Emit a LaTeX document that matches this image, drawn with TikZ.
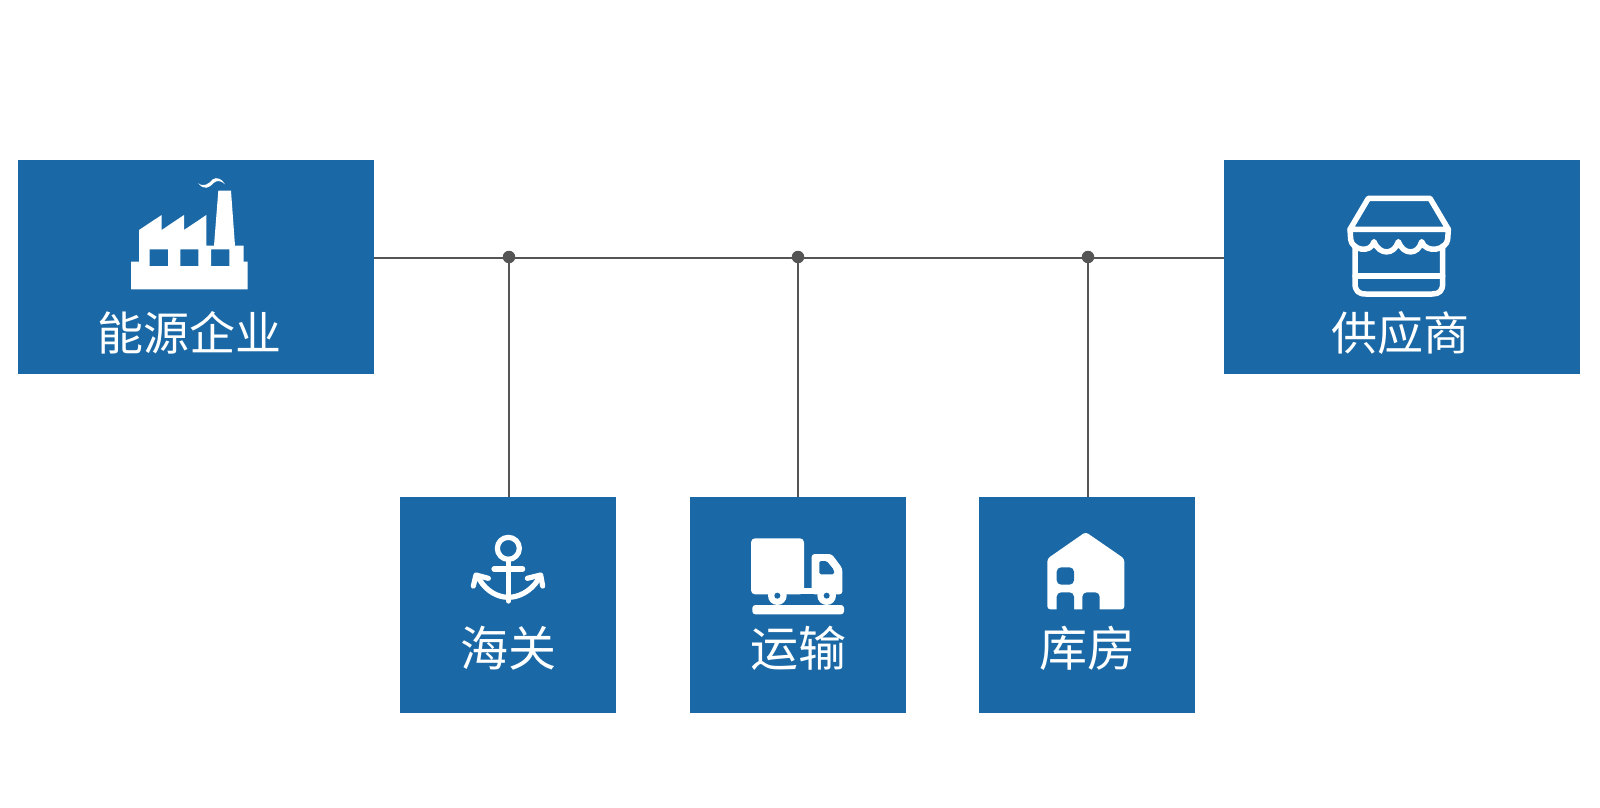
\documentclass[tikz,border=0pt]{standalone}
\usepackage{fontspec}
\newfontfamily\cjk{Noto Sans CJK SC}[Scale=1]
\definecolor{boxblue}{HTML}{1A69A6}
\definecolor{linegray}{HTML}{555555}
\tikzset{
  x=1pt,y=-1pt,
  bluebox/.style={fill=boxblue,draw=none,inner sep=0pt,outer sep=0pt,rectangle},
  wide/.style={bluebox,minimum width=356pt,minimum height=214pt},
  square/.style={bluebox,minimum width=216pt,minimum height=216pt},
  caption/.style={text=white,inner sep=0pt,font=\cjk\fontsize{46pt}{50pt}\selectfont},
  smallcaption/.style={text=white,inner sep=0pt,font=\cjk\fontsize{48pt}{52pt}\selectfont},
  wire/.style={draw=linegray,line width=2.2pt},
  dotj/.style={circle,fill=linegray,draw=none,minimum size=12.5pt,inner sep=0pt,outer sep=0pt},
  icon/.style={x=0.33333pt,y=-0.33333pt},
  iconfill/.style={fill=white,draw=none},
  iconline/.style={draw=white,line join=round,line cap=round},
}
\begin{document}
\begin{tikzpicture}
\useasboundingbox (0,0) rectangle (1600,808);
\fill[white] (0,0) rectangle (1600,808);
% boxes
\node[wide] (energy) at (196,267) {};
\node[wide] (supplier) at (1402,267) {};
\node[square] (customs) at (508,605) {};
\node[square] (transport) at (798,605) {};
\node[square] (storage) at (1087,605) {};
% junctions
\coordinate (bus) at (0,258);
\node[dotj] (j1) at (509,257) {};
\node[dotj] (j2) at (798,257) {};
\node[dotj] (j3) at (1088,257) {};
% connectors
\draw[wire] (energy.east |- bus) -- (supplier.west |- bus);
\draw[wire] (j1) -- (j1 |- customs.north);
\draw[wire] (j2) -- (j2 |- transport.north);
\draw[wire] (j3) -- (j3 |- storage.north);
% captions
\node[caption] (t1) at (189,333) {\cjk 能源企业};
\node[caption] (t2) at (1400,333) {\cjk 供应商};
\node[smallcaption] (t3) at (508,648) {\cjk 海关};
\node[smallcaption] (t4) at (798,648) {\cjk 运输};
\node[smallcaption] (t5) at (1087,648) {\cjk 库房};
% factory
\begin{scope}[shift={(100,160)},icon]
\fill[iconfill,even odd rule] (93,388)--(443,388)--(443,305)--(431,305)--(431,257)--(405,257)--(393,92)--(355,92)--(342,257)--(319,257)--(319,165)--(252,210)--(252,165)--(185,210)--(185,165)--(117,210)--(117,305)--(93,305)--cycle
 (149,268) rectangle (204,318) (241,268) rectangle (295,318) (333,268) rectangle (388,318);
\fill[iconfill] (295,70) .. controls (312,92) and (328,84) .. (342,68) .. controls (352,60) and (364,62) .. (375,73) .. controls (366,56) and (350,50) .. (338,58) .. controls (326,72) and (312,82) .. (295,70) -- cycle;
\end{scope}
% store
\begin{scope}[shift={(1300,170)},icon]
\draw[iconline,line width=5.5pt] (205,85)--(390,85)--(445,178)--(150,178)--cycle;
\draw[iconline,line width=5.5pt] (150,178)--(152,208) .. controls (155,240) and (212,252) .. (222,215) .. controls (238,256) and (282,256) .. (295,215) .. controls (310,256) and (354,256) .. (365,215) .. controls (378,252) and (440,240) .. (443,208)--(445,178);
\draw[iconline,line width=5.5pt] (165,228)--(165,340) .. controls (165,362) and (175,372) .. (197,372)--(397,372) .. controls (418,372) and (428,362) .. (428,340)--(428,228);
\draw[iconline,line width=5.5pt] (165,318)--(428,318);
\end{scope}
% anchor
\begin{scope}[shift={(440,520)},icon]
\draw[iconline,line width=5.2pt] (205,85) circle (33);
\draw[iconline,line width=5.2pt] (205,118)--(205,243);
\draw[iconline,line width=5.2pt] (162,147)--(248,147);
\draw[iconline,line width=5.2pt] (118,178) .. controls (140,215) and (175,232) .. (205,232) .. controls (235,232) and (272,215) .. (295,178);
\draw[iconline,line width=5.2pt] (145,175)--(108,165)--(100,198);
\draw[iconline,line width=5.2pt] (262,175)--(302,165)--(308,198);
\end{scope}
% truck
\begin{scope}[shift={(730,525)},icon]
\fill[iconfill,rounded corners=4pt] (63,40) rectangle (222,208);
\fill[iconfill] (200,190) rectangle (320,208);
\fill[iconfill,rounded corners=3pt] (245,208)--(245,87)--(305,87)--(337,130)--(337,208)--cycle;
\fill[boxblue,rounded corners=1.5pt] (268,108)--(290,108)--(312,135)--(312,148)--(268,148)--cycle;
\fill[iconfill] (142,212) circle (28) (290,212) circle (28);
\fill[boxblue] (142,212) circle (9) (290,212) circle (9);
\fill[iconfill,rounded corners=3pt] (67,240) rectangle (342,268);
\end{scope}
% warehouse
\begin{scope}[shift={(1025,520)},icon]
\fill[iconfill,rounded corners=3pt] (182,36)--(298,116)--(298,268)--(67,268)--(67,116)--cycle;
\fill[boxblue,rounded corners=4.5pt] (95,142) rectangle (147,194);
\begin{scope}
\clip (60,200) rectangle (300,268);
\fill[boxblue,rounded corners=4.5pt] (95,285)--(95,217)--(147,217)--(147,285)--cycle;
\fill[boxblue,rounded corners=4.5pt] (172,285)--(172,217)--(224,217)--(224,285)--cycle;
\end{scope}
\end{scope}
\end{tikzpicture}
\end{document}
